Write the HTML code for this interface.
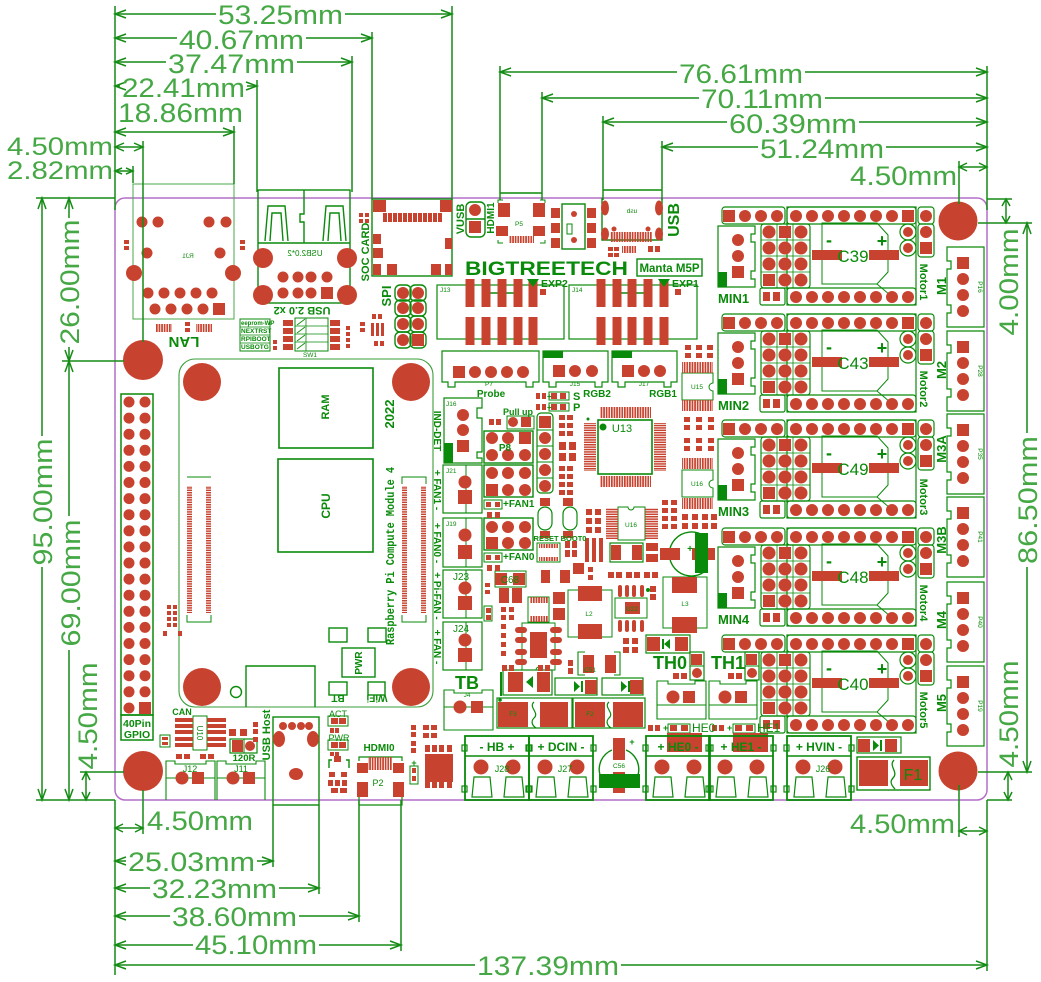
<!DOCTYPE html>
<html><head><meta charset="utf-8"><title>Manta M5P dimensions</title>
<style>
html,body{margin:0;padding:0;background:#fff;width:1041px;height:982px;overflow:hidden}
svg{display:block}
text{font-family:"Liberation Sans",sans-serif}
.dt{fill:#45a845;font-size:27px}
.ds{fill:#45a845;font-size:25px}
.b{font-weight:bold;fill:#0a8a0a}
.g{fill:#0a8a0a}
</style></head><body>
<svg width="1041" height="982" viewBox="0 0 1041 982" xmlns="http://www.w3.org/2000/svg">
<defs>
<pattern id="hs" width="10" height="2.4" patternUnits="userSpaceOnUse"><rect width="10" height="1.5" fill="#c8432f"/></pattern>
<pattern id="vs" width="2.6" height="10" patternUnits="userSpaceOnUse"><rect width="1.7" height="10" fill="#c8432f"/></pattern>
<g id="gp" fill="#c8432f"><circle cx="129" cy="0" r="5.5"/><circle cx="145" cy="0" r="5.5"/></g>
<g id="mot">
 <g fill="none" stroke="#0a8a0a" stroke-width="1.2">
  <rect x="787" y="-48" width="129" height="98"/>
  <rect x="787" y="-48" width="129" height="17" rx="3"/>
  <rect x="787" y="33" width="129" height="17" rx="3"/>
  <path d="M822,-32H877L888,-20V17L877,29H822Z" stroke-width="1"/>
  <path d="M877,29L890,40" stroke-width="1"/>
  <rect x="918" y="-48" width="16" height="17" rx="3"/>
  <rect x="918" y="-31" width="16" height="33" rx="3"/>
  <rect x="722" y="-48" width="63" height="17" rx="3"/>
  <rect x="761" y="-31" width="49" height="64" rx="3"/>
  <path d="M761,-15H810M761,1H810M761,17H810M777,-31V33M793,-31V33" stroke-width="0.8"/>
  <circle cx="908" cy="-23" r="8"/><circle cx="908" cy="-7" r="8"/>
  <rect x="760" y="33" width="25" height="17" rx="2"/>
 </g>
 <g fill="#c8432f">
  <circle cx="796" cy="-39" r="6"/><circle cx="812" cy="-39" r="6"/><circle cx="828" cy="-39" r="6"/><circle cx="844" cy="-39" r="6"/><circle cx="860" cy="-39" r="6"/><circle cx="876" cy="-39" r="6"/><circle cx="892" cy="-39" r="6"/><rect x="902" y="-45" width="12" height="12"/>
  <circle cx="796" cy="42" r="6"/><circle cx="812" cy="42" r="6"/><circle cx="828" cy="42" r="6"/><circle cx="844" cy="42" r="6"/><circle cx="860" cy="42" r="6"/><circle cx="876" cy="42" r="6"/><circle cx="892" cy="42" r="6"/><circle cx="908" cy="42" r="6"/>
  <circle cx="926" cy="-39" r="6"/><circle cx="926" cy="-23" r="6"/><rect x="920" y="-13" width="12" height="12"/>
  <circle cx="908" cy="-23" r="5"/><circle cx="908" cy="-7" r="5"/>
  <rect x="723" y="-45" width="12" height="12"/><circle cx="745" cy="-39" r="6"/><circle cx="761" cy="-39" r="6"/><circle cx="777" cy="-39" r="6"/>
  <circle cx="769" cy="-23" r="6.5"/><circle cx="769" cy="-7" r="6.5"/><circle cx="769" cy="9" r="6.5"/><rect x="763" y="19" width="12" height="12"/>
  <rect x="779" y="-29" width="12" height="12"/><circle cx="785" cy="-7" r="6.5"/><circle cx="785" cy="9" r="6.5"/><circle cx="785" cy="25" r="6.5"/>
  <circle cx="801" cy="-23" r="6.5"/><circle cx="801" cy="-7" r="6.5"/><circle cx="801" cy="9" r="6.5"/><circle cx="801" cy="25" r="6.5"/>
  <rect x="763" y="37" width="7" height="9"/><rect x="773" y="37" width="7" height="9"/>
  <rect x="812" y="-5" width="30" height="10"/><rect x="869" y="-5" width="30" height="10"/>
 </g>
</g>
<g id="mn">
 <path d="M718,-29H755V-21H751V-13H755V16H751V24H755V32H718Z" fill="none" stroke="#0a8a0a" stroke-width="1.2"/>
 <rect x="718" y="17" width="9" height="15" fill="#0a8a0a"/>
 <g fill="#c8432f"><circle cx="738" cy="-15" r="6"/><circle cx="738" cy="1" r="6"/><rect x="732" y="11" width="12" height="12"/></g>
</g>
<g id="mc">
 <path d="M947,0H984V80H947V66H951V58H947V22H951V14H947Z" fill="none" stroke="#0a8a0a" stroke-width="1.2"/>
 <g fill="#c8432f"><rect x="957" y="10" width="12" height="12"/><circle cx="963" cy="32" r="6"/><circle cx="963" cy="48" r="6"/><circle cx="963" cy="64" r="6"/></g>
</g>
<g id="tb">
 <rect x="0" y="0" width="64" height="64" fill="none" stroke="#0a8a0a" stroke-width="1.8"/>
 <path d="M0,20H64" stroke="#0a8a0a" stroke-width="1.5"/>
 <g fill="none" stroke="#0a8a0a" stroke-width="1.2"><rect x="-3" y="9" width="5" height="6"/><rect x="62" y="9" width="5" height="6"/><rect x="-3" y="50" width="5" height="6"/><rect x="62" y="50" width="5" height="6"/>
 <path d="M9,41H25L27,61H7Z"/><path d="M41,41H57L59,61H39Z"/></g>
 <circle cx="16" cy="31" r="7.5" fill="#c8432f"/><circle cx="48" cy="31" r="7.5" fill="#c8432f"/>
</g>
</defs>

<rect width="1041" height="982" fill="#fff"/>

<!-- board outline -->
<rect x="115" y="198" width="872" height="602" rx="10" fill="none" stroke="#b46ec8" stroke-width="1.5"/>

<!-- ===== outlines (green) ===== -->
<g fill="none" stroke="#0a8a0a" stroke-width="1.4">
 <rect x="133" y="184" width="101" height="135" stroke="#4aa84a" stroke-width="1"/>
 <rect x="258" y="190" width="92" height="113"/>
 <path d="M258,243H350M304,190V214H300V222H304V243"/>
 <path d="M265,241L268,206H285L288,241M270,241L272,213H281L283,241"/>
 <path d="M323,241L326,206H343L346,241M328,241L330,213H339L341,241"/>
 <rect x="372" y="199" width="80" height="77"/>
 <rect x="466" y="202" width="19" height="35" rx="5"/><path d="M466,219H485"/>
 <rect x="562" y="204" width="23" height="45"/><rect x="567" y="224" width="5" height="10" stroke-width="1"/>
 <path d="M602,198V240H662V198"/>
 <path d="M500,193H542M500,193V200M542,193V200M603,190H662M603,190V200M662,190V200"/>
 <path d="M498,203V200H503M545,203V200H540M498,240V243H503M545,240V243H540" stroke-width="1"/>
 <rect x="637" y="259" width="65" height="17"/>
 <rect x="437" y="285" width="127" height="54" stroke-width="1.2"/>
 <path d="M484,285V293H517V285"/>
 <rect x="569" y="285" width="128" height="54" stroke-width="1.2"/>
 <path d="M616,285V293H648V285"/>
 <rect x="395" y="285" width="16" height="16" rx="5"/><rect x="410" y="285" width="16" height="16" rx="5"/>
 <rect x="395" y="300" width="16" height="16" rx="5"/><rect x="410" y="300" width="16" height="16" rx="5"/>
 <rect x="395" y="316" width="16" height="16" rx="5"/><rect x="410" y="316" width="16" height="16" rx="5"/>
 <rect x="395" y="332" width="16" height="16" rx="5"/><rect x="410" y="332" width="16" height="16" rx="5"/>
 <rect x="240" y="319" width="30" height="32" stroke-width="1"/><path d="M240,327H270M240,335H270M240,343H270" stroke-width="0.8"/>
 <rect x="295" y="318" width="33" height="33" stroke-width="1"/><path d="M306,318V351M295,326H328M295,334H328M295,342H328" stroke-width="0.8"/>
 <path d="M297,325L305,319M297,333L305,327M297,341L305,335M297,349L305,343" stroke-width="0.8"/>
 <!-- CM4 -->
 <rect x="179" y="359" width="254" height="348" rx="16" stroke="#3a9e3a" stroke-width="1.1"/>
 <rect x="279" y="368" width="94" height="80" stroke-width="1.6"/>
 <rect x="278" y="459" width="95" height="93" stroke-width="1.6"/>
 <path d="M187,477H211M187,615V622H211V615M402,484V477H426V484M402,615V622H426V615" stroke-width="1"/>
 <rect x="342" y="648" width="33" height="29"/>
 <rect x="329" y="628" width="18" height="14"/><rect x="368" y="628" width="18" height="14"/>
 <rect x="329" y="682" width="18" height="13"/><rect x="368" y="682" width="17" height="13"/>
 <path d="M246,707V666H315V707"/>
 <circle cx="236" cy="692" r="5.5"/>
 <!-- GPIO -->
 <rect x="121" y="394" width="32" height="321" stroke-width="1.5"/>
 <rect x="121" y="715" width="32" height="25" stroke-width="1.5"/>
 <!-- Probe / RGB -->
 <path d="M442,351H539V382H533V387H526V382H455V387H448V382H442Z" stroke-width="1.2"/>
 <path d="M543,351H608V382H602V387H595V382H556V387H549V382H543Z" stroke-width="1.2"/>
 <path d="M612,351H677V382H671V387H664V382H625V387H618V382H612Z" stroke-width="1.2"/>
 <rect x="549" y="392" width="20" height="8" stroke-width="1"/><rect x="549" y="403" width="20" height="8" stroke-width="1"/>
 <!-- left side connectors -->
 <path d="M444,398H482V408H477V418H482V452H477V458H482V463H444Z" stroke-width="1.2"/>
 <rect x="443" y="465" width="39" height="48" stroke-width="1.2"/><path d="M466,465V513" stroke-width="1"/>
 <rect x="443" y="518" width="39" height="49" stroke-width="1.2"/><path d="M466,518V567" stroke-width="1"/>
 <rect x="443" y="570" width="39" height="48" stroke-width="1.2"/><path d="M466,570V618" stroke-width="1"/>
 <rect x="443" y="622" width="39" height="48" stroke-width="1.2"/><path d="M466,622V670" stroke-width="1"/>
 <rect x="484" y="431" width="49" height="32"/><rect x="484" y="465" width="49" height="32"/><rect x="484" y="518" width="49" height="32"/>
 <rect x="507" y="416" width="27" height="13" stroke-width="1"/>
 <rect x="484" y="500" width="18" height="9" stroke-width="1"/><rect x="484" y="553" width="18" height="9" stroke-width="1"/>
 <rect x="537" y="413" width="16" height="80" rx="4" stroke-width="1.2"/>
 <path d="M537,430H553M537,446H553M537,462H553M537,478H553" stroke-width="1"/>
 <rect x="598" y="420" width="54" height="54" stroke-width="1.6"/>
 <rect x="538" y="507" width="14" height="23" rx="7" stroke-width="1.2"/><rect x="563" y="507" width="14" height="23" rx="7" stroke-width="1.2"/>
 <rect x="537" y="543" width="23" height="19" stroke-width="1"/>
 <path d="M618,507H628A3,3 0 0 0 634,507H645V540H618Z" stroke-width="1"/>
 <rect x="610" y="543" width="33" height="19" stroke-width="1.2"/>
 <path d="M704,536A22,22 0 1 0 704,572" stroke-width="1.4"/>
 <path d="M682,373H713V383A4,4 0 0 0 713,391V400H682Z" stroke-width="1"/>
 <path d="M682,470H713V480A4,4 0 0 0 713,488V497H682Z" stroke-width="1"/>
 <rect x="495" y="571" width="31" height="16" stroke-width="1"/>
 <rect x="484" y="606" width="8" height="15" stroke-width="1"/>
 <rect x="528" y="597" width="21" height="25" stroke-width="1"/>
 <rect x="568" y="590" width="44" height="47" stroke-width="1"/>
 <rect x="615" y="598" width="32" height="20" stroke-width="1"/>
 <rect x="663" y="577" width="44" height="51" stroke-width="1"/>
 <path d="M522,623H555V670H542A3,3 0 0 0 536,670H522Z" stroke-width="1"/>
 <path d="M585,652H578V675H585M614,652H620V675H614" stroke-width="1.1"/>
 <rect x="646" y="635" width="44" height="18" stroke-width="1.2"/>
 <rect x="690" y="652" width="14" height="28" stroke-width="1.2"/><path d="M690,666H704" stroke-width="1"/>
 <rect x="745" y="652" width="14" height="28" stroke-width="1.2"/><path d="M745,666H759" stroke-width="1"/>
 <rect x="503" y="670" width="49" height="25" stroke-width="1.2"/>
 <rect x="555" y="678" width="42" height="17" stroke-width="1.2"/>
 <rect x="602" y="678" width="41" height="17" stroke-width="1.2"/>
 <rect x="497" y="698" width="75" height="30" stroke-width="1.2"/>
 <rect x="573" y="698" width="72" height="30" stroke-width="1.2"/>
 <path d="M534,702C528,707 540,713 534,718C530,722 533,726 536,728M609,702C603,707 615,713 609,718C605,722 608,726 611,728" stroke-width="1.2"/>
 <path d="M444,690H454V693H482V690H493V730H444ZM444,707H493" stroke-width="1.1"/>
 <path d="M657,681H668V684H695V681H706V719H657ZM657,705H706" stroke-width="1.1"/>
 <path d="M709,681H720V684H746V681H757V719H709ZM709,705H757" stroke-width="1.1"/>
 <rect x="668" y="724" width="22" height="9" stroke-width="1"/>
 <rect x="733" y="724" width="22" height="9" stroke-width="1"/>
 <path d="M600,775A21,21 0 0 1 612,750M626,750A21,21 0 0 1 638,775" stroke-width="1.4"/>
 <rect x="857" y="737" width="44" height="16" stroke-width="1.2"/>
 <rect x="857" y="757" width="73" height="33" stroke-width="1.4"/>
 <path d="M894,760C888,766 899,772 893,778C889,782 892,786 895,789" stroke-width="1.3"/>
 <!-- bottom left -->
 <rect x="193" y="716" width="14" height="34" stroke-width="1"/>
 <rect x="160" y="735" width="10" height="12" stroke-width="1"/>
 <rect x="230" y="739" width="27" height="14" stroke-width="1.2"/><path d="M244,739V753" stroke-width="1"/>
 <path d="M166,800V761H175V764H206V761H215V800M166,778H215" stroke-width="1.1"/>
 <path d="M217,800V761H226V764H256V761H265V800M217,778H265" stroke-width="1.1"/>
 <rect x="273" y="717" width="46" height="88" stroke-width="1.4"/>
 <rect x="328" y="716" width="20" height="10" stroke-width="1"/><rect x="328" y="740" width="20" height="10" stroke-width="1"/>
 <path d="M332,760H329V768M346,760H349V768" stroke-width="1.4"/>
 <path d="M359,761V757H402V761M359,796V805H402V796" stroke-width="1.2"/>
 <rect x="410" y="766" width="8" height="18" stroke-width="1"/>
</g>

<!-- ===== red pads ===== -->
<g fill="#c8432f">
 <circle cx="143" cy="360" r="20"/><circle cx="143" cy="771" r="20"/><circle cx="958" cy="221" r="19.5"/><circle cx="958" cy="771" r="19.5"/>
 <circle cx="202" cy="382" r="19"/><circle cx="411" cy="382" r="19"/><circle cx="202" cy="687" r="19"/><circle cx="411" cy="687" r="19"/>
 <circle cx="142" cy="222" r="5.5"/><circle cx="158" cy="222" r="5.5"/><circle cx="209" cy="222" r="5.5"/><circle cx="226" cy="222" r="5.5"/>
 <circle cx="147" cy="253" r="5.5"/><circle cx="220" cy="253" r="5.5"/><circle cx="134" cy="273" r="8"/><circle cx="233" cy="273" r="8"/>
 <circle cx="148" cy="293" r="5.5"/><circle cx="164" cy="293" r="5.5"/><circle cx="180" cy="293" r="5.5"/><circle cx="196" cy="293" r="5.5"/><circle cx="212" cy="293" r="5.5"/>
 <circle cx="155" cy="309" r="5.5"/><circle cx="171" cy="309" r="5.5"/><circle cx="187" cy="309" r="5.5"/><circle cx="203" cy="309" r="5.5"/><rect x="213" y="303" width="12" height="12"/>
 <circle cx="263" cy="258" r="10"/><circle cx="347" cy="258" r="10"/><circle cx="263" cy="295" r="10"/><circle cx="347" cy="295" r="10"/>
 <circle cx="283" cy="277" r="5.5"/><circle cx="298" cy="277" r="5.5"/><circle cx="311" cy="277" r="5.5"/><circle cx="327" cy="277" r="5.5"/>
 <circle cx="283" cy="293" r="5.5"/><circle cx="298" cy="293" r="5.5"/><circle cx="311" cy="293" r="5.5"/><rect x="321" y="287" width="12" height="12"/>
 <rect x="373" y="200" width="13" height="12"/><rect x="440" y="200" width="12" height="12"/>
 <rect x="383" y="213" width="4" height="9"/><rect x="388" y="213" width="4" height="9"/><rect x="393" y="213" width="4" height="9"/><rect x="398" y="213" width="4" height="9"/><rect x="403" y="213" width="4" height="9"/><rect x="408" y="213" width="4" height="9"/><rect x="413" y="213" width="4" height="9"/><rect x="418" y="213" width="4" height="9"/><rect x="423" y="213" width="4" height="9"/><rect x="428" y="213" width="4" height="9"/><rect x="433" y="213" width="4" height="9"/><rect x="438" y="213" width="4" height="9"/>
 <rect x="373" y="234" width="8" height="10"/><rect x="373" y="248" width="10" height="10"/><rect x="373" y="264" width="8" height="11"/><rect x="387" y="264" width="10" height="11"/>
 <rect x="445" y="238" width="7" height="11"/><rect x="431" y="264" width="10" height="11"/><rect x="445" y="264" width="7" height="11"/>
 <rect x="359" y="213" width="4" height="4"/><rect x="365" y="213" width="4" height="4"/><rect x="359" y="219" width="4" height="4"/><rect x="365" y="219" width="4" height="4"/>
 <circle cx="475" cy="210" r="6"/><rect x="469" y="221" width="12" height="12"/>
 <rect x="498" y="203" width="12" height="14"/><rect x="533" y="203" width="12" height="14"/>
 <rect x="496" y="226" width="12" height="10"/><rect x="533" y="226" width="12" height="10"/>
 <rect x="509" y="236" width="25" height="7" fill="url(#vs)"/>
 <rect x="551" y="208" width="9" height="10"/><rect x="551" y="223" width="9" height="10"/><rect x="551" y="238" width="9" height="10"/>
 <rect x="587" y="208" width="9" height="10"/><rect x="587" y="223" width="9" height="10"/><rect x="587" y="238" width="9" height="10"/>
 <circle cx="574" cy="214" r="3"/><circle cx="574" cy="240" r="3"/>
 <ellipse cx="605" cy="208" rx="4" ry="7.5"/><ellipse cx="659" cy="208" rx="4" ry="7.5"/>
 <ellipse cx="605" cy="234" rx="4" ry="6.5"/><ellipse cx="659" cy="234" rx="4" ry="6.5"/>
 <rect x="610" y="232" width="42" height="10" fill="url(#vs)"/>
 <circle cx="614" cy="229" r="2.5"/><circle cx="648" cy="229" r="2.5"/>
 <rect x="608" y="247" width="5" height="4"/><rect x="614" y="247" width="5" height="4"/><rect x="608" y="253" width="5" height="4"/><rect x="614" y="253" width="5" height="4"/>
 <rect x="622" y="246" width="14" height="7" fill="url(#vs)"/>
 <rect x="648" y="246" width="5" height="6"/><rect x="655" y="246" width="5" height="6"/>
 <rect x="465.5" y="279" width="9" height="28"/><rect x="481.5" y="279" width="9" height="28"/><rect x="497.5" y="279" width="9" height="28"/><rect x="513.5" y="279" width="9" height="28"/><rect x="528.5" y="279" width="9" height="28"/>
 <rect x="465.5" y="317" width="9" height="28"/><rect x="481.5" y="317" width="9" height="28"/><rect x="497.5" y="317" width="9" height="28"/><rect x="513.5" y="317" width="9" height="28"/><rect x="528.5" y="317" width="9" height="28"/>
 <rect x="596.5" y="279" width="9" height="28"/><rect x="612.5" y="279" width="9" height="28"/><rect x="627.5" y="279" width="9" height="28"/><rect x="643.5" y="279" width="9" height="28"/><rect x="659.5" y="279" width="9" height="28"/>
 <rect x="596.5" y="317" width="9" height="28"/><rect x="612.5" y="317" width="9" height="28"/><rect x="627.5" y="317" width="9" height="28"/><rect x="643.5" y="317" width="9" height="28"/><rect x="659.5" y="317" width="9" height="28"/>
 <rect x="540" y="289" width="6" height="6"/><rect x="675" y="289" width="6" height="6"/>
 <circle cx="403" cy="293" r="6"/><circle cx="418" cy="293" r="6"/><circle cx="403" cy="308" r="6"/><circle cx="418" cy="308" r="6"/>
 <circle cx="403" cy="324" r="6"/><circle cx="418" cy="324" r="6"/><circle cx="403" cy="340" r="6"/><rect x="412" y="334" width="12" height="12"/>
 <rect x="372" y="314" width="4" height="5"/><rect x="378" y="314" width="4" height="5"/><rect x="360" y="322" width="5" height="4"/><rect x="360" y="328" width="5" height="4"/>
 <rect x="371" y="323" width="3" height="13"/><rect x="376" y="323" width="3" height="13"/><rect x="381" y="323" width="3" height="13"/>
 <rect x="374" y="341" width="4" height="5"/><rect x="380" y="341" width="4" height="5"/>
 <rect x="283" y="320" width="10" height="6"/><rect x="283" y="328" width="10" height="6"/><rect x="283" y="336" width="10" height="6"/><rect x="283" y="344" width="10" height="6"/>
 <rect x="330" y="320" width="10" height="6"/><rect x="330" y="328" width="10" height="6"/><rect x="330" y="336" width="10" height="6"/><rect x="330" y="344" width="10" height="6"/>
 <rect x="273" y="340" width="4" height="4"/><rect x="273" y="346" width="4" height="4"/>
 <rect x="346" y="326" width="4" height="4"/><rect x="346" y="332" width="4" height="4"/><rect x="346" y="338" width="4" height="4"/><rect x="346" y="344" width="4" height="4"/>
 <rect x="156" y="324" width="16" height="8" fill="url(#vs)"/><rect x="196" y="324" width="16" height="8" fill="url(#vs)"/>
 <rect x="185" y="322" width="5" height="4"/><rect x="185" y="328" width="5" height="4"/>
 <rect x="124" y="240" width="5" height="4"/><rect x="124" y="246" width="5" height="4"/><rect x="240" y="240" width="5" height="4"/><rect x="240" y="246" width="5" height="4"/>
 <rect x="187" y="486" width="5" height="127" fill="url(#hs)"/><rect x="206" y="486" width="5" height="127" fill="url(#hs)"/>
 <rect x="402" y="486" width="5" height="127" fill="url(#hs)"/><rect x="421" y="486" width="5" height="127" fill="url(#hs)"/>
 <rect x="167" y="605" width="4" height="4"/><rect x="173" y="605" width="4" height="4"/><rect x="167" y="611" width="4" height="4"/><rect x="173" y="611" width="4" height="4"/><rect x="167" y="617" width="4" height="4"/><rect x="173" y="617" width="4" height="4"/><rect x="167" y="623" width="4" height="4"/><rect x="173" y="623" width="4" height="4"/>
 <rect x="163" y="631" width="4" height="5"/><rect x="178" y="631" width="4" height="5"/>
 <rect x="453" y="366" width="12" height="12"/><circle cx="475" cy="372" r="6"/><circle cx="491" cy="372" r="6"/><circle cx="507" cy="372" r="6"/><circle cx="523" cy="372" r="6"/>
 <rect x="553" y="365" width="12" height="12"/><circle cx="575" cy="371" r="6"/><circle cx="592" cy="371" r="6"/>
 <rect x="622" y="365" width="12" height="12"/><circle cx="644" cy="371" r="6"/><circle cx="660" cy="371" r="6"/>
 <rect x="536" y="393" width="4" height="6"/><rect x="542" y="393" width="4" height="6"/><rect x="551" y="393" width="6" height="6"/><rect x="560" y="393" width="6" height="6"/>
 <rect x="536" y="404" width="4" height="6"/><rect x="542" y="404" width="4" height="6"/><rect x="551" y="404" width="6" height="6"/><rect x="560" y="404" width="6" height="6"/>
 <circle cx="463" cy="415" r="6"/><circle cx="463" cy="430" r="6"/><rect x="457" y="440" width="12" height="12"/>
 <circle cx="465" cy="482" r="6.5"/><rect x="458" y="490" width="14" height="14"/>
 <circle cx="465" cy="535" r="6.5"/><rect x="458" y="545" width="14" height="14"/>
 <circle cx="465" cy="588" r="6.5"/><rect x="458" y="596" width="14" height="14"/>
 <circle cx="465" cy="640" r="6.5"/><rect x="458" y="648" width="14" height="14"/>
 <circle cx="513" cy="422" r="5"/><rect x="521" y="417" width="10" height="10"/>
 <rect x="489" y="419" width="5" height="6"/><rect x="496" y="419" width="5" height="6"/>
 <circle cx="492" cy="438" r="6"/><circle cx="508" cy="438" r="6"/><rect x="519" y="432" width="12" height="12"/>
 <circle cx="492" cy="455" r="6"/><circle cx="508" cy="455" r="6"/><circle cx="525" cy="455" r="6"/>
 <circle cx="492" cy="473" r="6"/><circle cx="508" cy="473" r="6"/><circle cx="525" cy="473" r="6"/>
 <rect x="486" y="484" width="12" height="12"/><circle cx="508" cy="490" r="6"/><circle cx="525" cy="490" r="6"/>
 <circle cx="492" cy="527" r="6"/><circle cx="508" cy="527" r="6"/><circle cx="525" cy="527" r="6"/>
 <rect x="486" y="537" width="12" height="12"/><circle cx="508" cy="543" r="6"/><circle cx="525" cy="543" r="6"/>
 <rect x="486" y="502" width="5" height="5"/><rect x="495" y="502" width="5" height="5"/><rect x="486" y="555" width="5" height="5"/><rect x="495" y="555" width="5" height="5"/>
 <rect x="487" y="512" width="5" height="6"/><rect x="495" y="512" width="5" height="6"/><rect x="487" y="565" width="5" height="6"/><rect x="495" y="565" width="5" height="6"/>
 <rect x="539" y="416" width="12" height="12"/><circle cx="545" cy="438" r="6"/><circle cx="545" cy="454" r="6"/><circle cx="545" cy="470" r="6"/><circle cx="545" cy="486" r="6"/>
 <rect x="559" y="415" width="6" height="5"/><rect x="567" y="415" width="6" height="5"/><rect x="559" y="423" width="6" height="5"/><rect x="567" y="423" width="6" height="5"/><rect x="559" y="431" width="6" height="5"/><rect x="567" y="431" width="6" height="5"/>
 <rect x="559" y="442" width="7" height="8"/><rect x="569" y="442" width="7" height="8"/><rect x="559" y="453" width="7" height="8"/><rect x="569" y="453" width="7" height="8"/>
 <rect x="559" y="466" width="6" height="5"/><rect x="567" y="466" width="6" height="5"/><rect x="559" y="474" width="6" height="5"/><rect x="567" y="474" width="6" height="5"/><rect x="559" y="482" width="6" height="5"/><rect x="567" y="482" width="6" height="5"/><rect x="559" y="490" width="6" height="5"/><rect x="567" y="490" width="6" height="5"/>
 <rect x="584" y="423" width="12" height="48" fill="url(#hs)"/><rect x="654" y="423" width="12" height="48" fill="url(#hs)"/>
 <rect x="600" y="407" width="51" height="11" fill="url(#vs)"/><rect x="600" y="476" width="51" height="11" fill="url(#vs)"/>
 <rect x="540" y="498" width="10" height="8"/><rect x="563" y="498" width="10" height="8"/><rect x="540" y="531" width="10" height="7"/><rect x="563" y="531" width="10" height="7"/>
 <rect x="586" y="509" width="6" height="6"/><rect x="595" y="509" width="6" height="6"/><rect x="586" y="518" width="6" height="6"/><rect x="595" y="518" width="6" height="6"/><rect x="586" y="527" width="6" height="6"/><rect x="595" y="527" width="6" height="6"/>
 <rect x="539" y="544" width="19" height="4" fill="url(#vs)"/><rect x="539" y="557" width="19" height="4" fill="url(#vs)"/>
 <rect x="565" y="541" width="5" height="7"/><rect x="572" y="541" width="5" height="7"/><rect x="565" y="550" width="5" height="7"/><rect x="572" y="550" width="5" height="7"/>
 <rect x="585" y="538" width="4" height="24"/><rect x="592" y="538" width="4" height="24"/><rect x="599" y="538" width="4" height="24"/>
 <rect x="606" y="508" width="12" height="31" fill="url(#hs)"/><rect x="645" y="508" width="13" height="31" fill="url(#hs)"/>
 <rect x="611" y="545" width="10" height="15"/><rect x="632" y="545" width="10" height="15"/>
 <rect x="646" y="543" width="12" height="8"/><rect x="646" y="554" width="12" height="8"/>
 <rect x="660" y="548" width="20" height="12"/><rect x="692" y="548" width="23" height="12"/>
 <rect x="685" y="345" width="6" height="5"/><rect x="685" y="353" width="6" height="5"/><rect x="696" y="345" width="6" height="5"/><rect x="696" y="353" width="6" height="5"/><rect x="707" y="345" width="6" height="5"/><rect x="707" y="353" width="6" height="5"/>
 <rect x="682" y="362" width="31" height="11" fill="url(#vs)"/><rect x="682" y="400" width="31" height="11" fill="url(#vs)"/>
 <rect x="684" y="417" width="6" height="5"/><rect x="684" y="425" width="6" height="5"/><rect x="696" y="417" width="6" height="5"/><rect x="696" y="425" width="6" height="5"/><rect x="708" y="417" width="6" height="5"/><rect x="708" y="425" width="6" height="5"/>
 <rect x="684" y="438" width="6" height="5"/><rect x="684" y="446" width="6" height="5"/><rect x="696" y="438" width="6" height="5"/><rect x="696" y="446" width="6" height="5"/><rect x="708" y="438" width="6" height="5"/><rect x="708" y="446" width="6" height="5"/>
 <rect x="682" y="458" width="31" height="11" fill="url(#vs)"/><rect x="682" y="498" width="31" height="11" fill="url(#vs)"/>
 <rect x="662" y="500" width="6" height="5"/><rect x="671" y="500" width="6" height="5"/><rect x="662" y="508" width="6" height="5"/><rect x="671" y="508" width="6" height="5"/><rect x="662" y="516" width="6" height="5"/><rect x="671" y="516" width="6" height="5"/><rect x="662" y="524" width="6" height="5"/><rect x="671" y="524" width="6" height="5"/>
 <rect x="682" y="514" width="6" height="6"/><rect x="682" y="523" width="6" height="6"/><rect x="692" y="514" width="6" height="6"/><rect x="692" y="523" width="6" height="6"/><rect x="702" y="514" width="6" height="6"/><rect x="702" y="523" width="6" height="6"/><rect x="711" y="514" width="6" height="6"/><rect x="711" y="523" width="6" height="6"/>
 <rect x="495" y="573" width="12" height="12"/><rect x="513" y="573" width="12" height="12"/>
 <rect x="499" y="588" width="10" height="15"/><rect x="512" y="588" width="10" height="15"/>
 <rect x="485" y="583" width="5" height="4"/><rect x="485" y="590" width="5" height="4"/><rect x="486" y="608" width="5" height="5"/><rect x="486" y="615" width="5" height="5"/>
 <rect x="501" y="607" width="5" height="5"/><rect x="509" y="607" width="5" height="5"/><rect x="501" y="615" width="5" height="5"/><rect x="509" y="615" width="5" height="5"/><rect x="501" y="624" width="5" height="5"/><rect x="501" y="633" width="5" height="5"/><rect x="501" y="642" width="5" height="5"/><rect x="501" y="651" width="5" height="5"/>
 <rect x="541" y="570" width="9" height="13"/><rect x="560" y="570" width="10" height="13"/>
 <rect x="573" y="563" width="11" height="11"/><rect x="588" y="567" width="5" height="5"/><rect x="588" y="575" width="5" height="5"/>
 <rect x="530" y="597" width="18" height="6" fill="url(#vs)"/><rect x="530" y="616" width="18" height="6" fill="url(#vs)"/>
 <rect x="553" y="592" width="12" height="12"/><rect x="553" y="608" width="12" height="12"/>
 <rect x="578" y="586" width="24" height="15"/><rect x="578" y="624" width="24" height="15"/>
 <rect x="618" y="585" width="4" height="12" rx="2"/><rect x="625" y="585" width="4" height="12" rx="2"/><rect x="632" y="585" width="4" height="12" rx="2"/><rect x="640" y="585" width="4" height="12" rx="2"/>
 <rect x="618" y="620" width="4" height="12" rx="2"/><rect x="625" y="620" width="4" height="12" rx="2"/><rect x="632" y="620" width="4" height="12" rx="2"/><rect x="640" y="620" width="4" height="12" rx="2"/>
 <rect x="625" y="602" width="15" height="12"/>
 <rect x="608" y="572" width="6" height="6"/><rect x="616" y="572" width="6" height="6"/><rect x="626" y="572" width="6" height="6"/><rect x="634" y="572" width="6" height="6"/><rect x="644" y="572" width="6" height="6"/><rect x="652" y="572" width="6" height="6"/>
 <rect x="650" y="586" width="6" height="6"/><rect x="650" y="594" width="6" height="6"/>
 <rect x="672" y="577" width="25" height="16"/><rect x="672" y="617" width="25" height="16"/>
 <rect x="515" y="627" width="12" height="6" rx="3"/><rect x="515" y="637" width="12" height="6" rx="3"/><rect x="515" y="649" width="12" height="6" rx="3"/><rect x="515" y="659" width="12" height="6" rx="3"/>
 <rect x="550" y="627" width="12" height="6" rx="3"/><rect x="550" y="637" width="12" height="6" rx="3"/><rect x="550" y="649" width="12" height="6" rx="3"/><rect x="550" y="659" width="12" height="6" rx="3"/>
 <rect x="530" y="632" width="17" height="26"/>
 <rect x="502" y="665" width="5" height="6"/><rect x="509" y="665" width="5" height="6"/><rect x="538" y="665" width="5" height="6"/><rect x="545" y="665" width="5" height="6"/>
 <rect x="568" y="660" width="5" height="6"/><rect x="568" y="668" width="5" height="6"/>
 <rect x="583" y="655" width="11" height="18"/><rect x="605" y="655" width="11" height="18"/>
 <rect x="623" y="638" width="6" height="6"/><rect x="632" y="638" width="6" height="6"/><rect x="623" y="647" width="6" height="6"/><rect x="632" y="647" width="6" height="6"/>
 <rect x="647" y="637" width="13" height="14"/><rect x="675" y="637" width="13" height="14"/>
 <rect x="691" y="654" width="11" height="11"/><circle cx="697" cy="673" r="5"/>
 <rect x="746" y="654" width="11" height="11"/><circle cx="752" cy="673" r="5"/>
 <rect x="673" y="673" width="6" height="6"/><rect x="681" y="673" width="6" height="6"/><rect x="728" y="673" width="6" height="6"/><rect x="736" y="673" width="6" height="6"/>
 <rect x="508" y="672" width="15" height="20"/><rect x="537" y="672" width="13" height="20"/>
 <rect x="585" y="680" width="12" height="14"/><rect x="630" y="680" width="13" height="14"/>
 <rect x="498" y="702" width="30" height="25"/><rect x="540" y="702" width="28" height="25"/>
 <rect x="575" y="702" width="30" height="25"/><rect x="613" y="702" width="30" height="25"/>
 <circle cx="460" cy="707" r="6.5"/><rect x="471" y="701" width="12" height="12"/>
 <circle cx="673" cy="697" r="6.5"/><rect x="683" y="691" width="12" height="12"/>
 <circle cx="725" cy="697" r="6.5"/><rect x="735" y="691" width="12" height="12"/>
 <rect x="648" y="725" width="5" height="6"/><rect x="655" y="725" width="5" height="6"/><rect x="670" y="725" width="7" height="6"/><rect x="681" y="725" width="7" height="6"/>
 <rect x="712" y="725" width="5" height="6"/><rect x="719" y="725" width="5" height="6"/><rect x="735" y="725" width="7" height="6"/><rect x="746" y="725" width="7" height="6"/>
 <rect x="667" y="733" width="35" height="19"/><rect x="733" y="733" width="35" height="19"/>
 <rect x="613" y="738" width="12" height="22"/><rect x="613" y="772" width="12" height="21"/>
 <rect x="858" y="739" width="12" height="13"/><rect x="885" y="739" width="12" height="13"/>
 <rect x="859" y="760" width="29" height="26"/><rect x="900" y="760" width="28" height="26"/>
 <rect x="175" y="718" width="18" height="4"/><rect x="175" y="724" width="18" height="4"/><rect x="175" y="730" width="18" height="4"/><rect x="175" y="737" width="18" height="4"/><rect x="175" y="743" width="18" height="4"/>
 <rect x="207" y="718" width="19" height="4"/><rect x="207" y="724" width="19" height="4"/><rect x="207" y="730" width="19" height="4"/><rect x="207" y="737" width="19" height="4"/><rect x="207" y="743" width="19" height="4"/>
 <rect x="162" y="737" width="6" height="3"/><rect x="162" y="742" width="6" height="3"/>
 <rect x="176" y="754" width="6" height="5"/><rect x="184" y="754" width="6" height="5"/><rect x="200" y="754" width="6" height="5"/><rect x="208" y="754" width="6" height="5"/>
 <rect x="229" y="729" width="7" height="7"/><rect x="240" y="729" width="7" height="7"/>
 <rect x="253" y="722" width="5" height="5"/><rect x="253" y="729" width="5" height="5"/><rect x="253" y="737" width="5" height="5"/>
 <rect x="232" y="740" width="11" height="12"/><circle cx="250" cy="746" r="5"/>
 <circle cx="182" cy="778" r="6.5"/><rect x="192" y="772" width="12" height="12"/>
 <circle cx="233" cy="778" r="6.5"/><rect x="243" y="772" width="12" height="12"/>
 <circle cx="283" cy="726" r="4"/><circle cx="292" cy="726" r="4"/><circle cx="301" cy="726" r="4"/><circle cx="309" cy="726" r="4"/>
 <ellipse cx="279" cy="739" rx="6" ry="8"/><ellipse cx="313" cy="739" rx="6" ry="8"/><ellipse cx="296" cy="774" rx="7" ry="6"/>
 <rect x="331" y="718" width="7" height="6"/><rect x="339" y="718" width="7" height="6"/><rect x="330" y="728" width="4" height="5"/><rect x="335" y="728" width="4" height="5"/>
 <rect x="331" y="742" width="7" height="6"/><rect x="339" y="742" width="7" height="6"/><rect x="330" y="752" width="4" height="4"/><rect x="335" y="752" width="4" height="4"/>
 <rect x="334" y="756" width="7" height="6"/>
 <rect x="329" y="772" width="6" height="5"/><rect x="341" y="772" width="6" height="5"/>
 <rect x="328" y="780" width="5" height="6"/><rect x="335" y="780" width="5" height="6"/><rect x="342" y="780" width="5" height="6"/>
 <rect x="331" y="788" width="7" height="5"/><rect x="340" y="788" width="7" height="5"/>
 <rect x="368" y="757" width="24" height="13" fill="url(#vs)"/>
 <rect x="357" y="763" width="11" height="10"/><rect x="393" y="763" width="11" height="10"/>
 <rect x="357" y="782" width="11" height="15"/><rect x="393" y="782" width="11" height="15"/>
 <rect x="411" y="725" width="5" height="5"/><rect x="411" y="732" width="5" height="5"/><rect x="411" y="741" width="5" height="5"/><rect x="411" y="748" width="5" height="5"/><rect x="412" y="768" width="4" height="5"/><rect x="412" y="776" width="4" height="5"/>
 <rect x="423" y="725" width="6" height="5"/><rect x="431" y="725" width="6" height="5"/><rect x="423" y="733" width="6" height="5"/><rect x="431" y="733" width="6" height="5"/>
 <rect x="425" y="745" width="5" height="7"/><rect x="432" y="745" width="5" height="7"/><rect x="439" y="745" width="5" height="7"/><rect x="447" y="745" width="5" height="7"/>
 <rect x="425" y="754" width="28" height="28"/>
 <rect x="425" y="782" width="5" height="6"/><rect x="432" y="782" width="5" height="6"/><rect x="439" y="782" width="5" height="6"/><rect x="447" y="782" width="5" height="6"/>
</g>

<!-- GPIO pads -->
<use href="#gp" y="402"/><use href="#gp" y="418.1"/><use href="#gp" y="434.2"/><use href="#gp" y="450.3"/><use href="#gp" y="466.4"/>
<use href="#gp" y="482.5"/><use href="#gp" y="498.6"/><use href="#gp" y="514.7"/><use href="#gp" y="530.8"/><use href="#gp" y="546.9"/>
<use href="#gp" y="563"/><use href="#gp" y="579.1"/><use href="#gp" y="595.2"/><use href="#gp" y="611.3"/><use href="#gp" y="627.4"/>
<use href="#gp" y="643.5"/><use href="#gp" y="659.6"/><use href="#gp" y="675.7"/><use href="#gp" y="691.8"/>
<circle cx="129" cy="708" r="5.5" fill="#c8432f"/><rect x="139" y="702" width="12" height="12" fill="#c8432f"/>

<!-- motors -->
<use href="#mot" y="255"/><use href="#mot" y="362"/><use href="#mot" y="468"/><use href="#mot" y="576"/><use href="#mot" y="683"/>
<use href="#mn" y="255"/><use href="#mn" y="362"/><use href="#mn" y="468"/><use href="#mn" y="576"/>
<use href="#mc" y="247"/><use href="#mc" y="331"/><use href="#mc" y="414"/><use href="#mc" y="497"/><use href="#mc" y="582"/><use href="#mc" y="666"/>

<!-- terminal blocks -->
<use href="#tb" x="465" y="736"/><use href="#tb" x="529" y="736"/><use href="#tb" x="646" y="736"/><use href="#tb" x="709" y="736"/><use href="#tb" x="787" y="736"/>

<!-- dark green fills / markers -->
<g fill="#0a8a0a">
 <rect x="543" y="351" width="20" height="7"/><rect x="612" y="351" width="20" height="7"/>
 <rect x="444" y="443" width="9" height="20"/>
 <rect x="695" y="533" width="13" height="40"/>
 <rect x="599" y="774" width="41" height="14"/>
 <polygon points="527,279 539,279 533,287"/><polygon points="658,279 670,279 664,287"/>
 <circle cx="603" cy="427" r="3.5"/><circle cx="588" cy="419" r="1.5"/>
 <polygon points="533,676 533,688 526,682"/>
 <polygon points="574,681 574,692 580,686.5"/><rect x="581" y="681" width="2" height="11"/>
 <polygon points="621,681 621,692 627,686.5"/><rect x="628" y="681" width="2" height="11"/>
 <polygon points="670,639 670,649 664,644"/><rect x="662" y="639" width="2" height="10"/>
 <polygon points="873,740 873,751 879,745.5"/><rect x="880" y="740" width="2" height="11"/>
 <circle cx="648" cy="590" r="2"/><circle cx="500" cy="700" r="1.8"/>
 <rect x="500" y="672" width="2" height="24"/>
</g>

<!-- ===== labels ===== -->
<g class="b">
 <text transform="translate(184,342) rotate(180)" text-anchor="middle" y="5" font-size="15">LAN</text>
 <text transform="translate(302,311) rotate(180)" text-anchor="middle" y="4" font-size="11">USB 2.0 x2</text>
 <text transform="translate(365,252) rotate(-90)" text-anchor="middle" y="4" font-size="11">SOC CARD</text>
 <text transform="translate(460,219) rotate(-90)" text-anchor="middle" y="4" font-size="11">VUSB</text>
 <text transform="translate(490,218) rotate(-90)" text-anchor="middle" y="4" font-size="10">HDMI1</text>
 <text transform="translate(673,220) rotate(-90)" text-anchor="middle" y="6" font-size="16">USB</text>
 <text transform="translate(386,296) rotate(-90)" text-anchor="middle" y="5" font-size="13">SPI</text>
 <text x="465" y="275" font-size="19" textLength="163" lengthAdjust="spacingAndGlyphs">BIGTREETECH</text>
 <text x="669.5" y="272" text-anchor="middle" font-size="11.5">Manta M5P</text>
 <text x="541" y="287" font-size="10.5">EXP2</text>
 <text x="672" y="287" font-size="10.5">EXP1</text>
 <text x="241" y="325" font-size="6">eeprom-WP</text>
 <text x="241" y="333" font-size="6.5">NEXTRST</text>
 <text x="241" y="341" font-size="6.5">RPIBOOT</text>
 <text x="241" y="349" font-size="6.5">USBOTG</text>
 <text transform="translate(325,407) rotate(-90)" text-anchor="middle" y="4" font-size="11">RAM</text>
 <text transform="translate(325,506) rotate(-90)" text-anchor="middle" y="5" font-size="12">CPU</text>
 <text transform="translate(389,414) rotate(-90)" text-anchor="middle" y="5" font-size="13">2022</text>
 <text transform="translate(390,556) rotate(-90)" text-anchor="middle" y="4" font-size="12" style="font-family:'Liberation Mono',monospace" textLength="178" lengthAdjust="spacingAndGlyphs">Raspberry Pi Compute Module 4</text>
 <text transform="translate(358,663) rotate(-90)" text-anchor="middle" y="4" font-size="10">PWR</text>
 <text transform="translate(338,699) rotate(180)" text-anchor="middle" y="4" font-size="10">BT</text>
 <text transform="translate(377,699) rotate(180)" text-anchor="middle" y="4" font-size="10">WiFi</text>
 <text x="137" y="727" text-anchor="middle" font-size="10.5">40Pin</text>
 <text x="137" y="738" text-anchor="middle" font-size="10.5">GPIO</text>
 <text x="491" y="397" text-anchor="middle" font-size="10">Probe</text>
 <text x="597" y="397" text-anchor="middle" font-size="10">RGB2</text>
 <text x="663" y="397" text-anchor="middle" font-size="10">RGB1</text>
 <text x="547" y="399" font-size="8">+</text><text x="547" y="410" font-size="8">+</text>
 <text x="573" y="400" font-size="11">S</text><text x="573" y="411" font-size="11">P</text>
 <text transform="translate(438,431) rotate(90)" text-anchor="middle" y="4" font-size="10">IND-DET</text>
 <text transform="translate(438,490) rotate(90)" text-anchor="middle" y="4" font-size="10">+ FAN1 -</text>
 <text transform="translate(438,543) rotate(90)" text-anchor="middle" y="4" font-size="10">+ FAN0 -</text>
 <text transform="translate(438,596) rotate(90)" text-anchor="middle" y="4" font-size="10">+ Pi-FAN -</text>
 <text transform="translate(438,647) rotate(90)" text-anchor="middle" y="4" font-size="10">+ FAN -</text>
 <text x="518" y="415" text-anchor="middle" font-size="9">Pull up</text>
 <text x="505" y="451" text-anchor="middle" font-size="10">P8</text>
 <text x="503" y="507" font-size="10">+FAN1</text>
 <text x="503" y="560" font-size="10">+FAN0</text>
 <text x="560" y="541" text-anchor="middle" font-size="7.5">RESET BOOT0</text>
 <text x="453" y="580" font-size="10" style="font-weight:normal">J23</text>
 <text x="453" y="632" font-size="10" style="font-weight:normal">J24</text>
 <text x="622" y="432" text-anchor="middle" font-size="11" style="font-weight:normal">U13</text>
 <text x="510" y="583" text-anchor="middle" font-size="10" style="font-weight:normal">C68</text>
 <text transform="translate(700,560) rotate(-90)" text-anchor="middle" y="4" font-size="10" style="font-weight:normal">C62</text>
 <text x="690" y="552" text-anchor="middle" font-size="10">+</text>
 <text x="653" y="669" font-size="18">TH0</text>
 <text x="711" y="669" font-size="18">TH1</text>
 <text x="467" y="689" text-anchor="middle" font-size="18">TB</text>
 <text x="663" y="731" font-size="9">+</text><text x="692" y="732" font-size="12" style="font-weight:normal">HE0</text>
 <text x="727" y="731" font-size="9">+</text><text x="757" y="732" font-size="12" style="font-weight:normal">HE1</text>
 <text x="497" y="751" text-anchor="middle" font-size="12">- HB +</text>
 <text x="561" y="751" text-anchor="middle" font-size="12">+ DCIN -</text>
 <text x="678" y="751" text-anchor="middle" font-size="12">+ HE0 -</text>
 <text x="741" y="751" text-anchor="middle" font-size="12">+ HE1 -</text>
 <text x="819" y="751" text-anchor="middle" font-size="12">+ HVIN -</text>
 <text x="632" y="745" text-anchor="middle" font-size="9">+</text>
 <text x="913" y="780" text-anchor="middle" font-size="16" style="font-weight:normal">F1</text>
 <text x="182" y="715" text-anchor="middle" font-size="9">CAN</text>
 <text x="244" y="761" text-anchor="middle" font-size="9.5">120R</text>
 <text transform="translate(266,735) rotate(-90)" text-anchor="middle" y="4" font-size="11">USB Host</text>
 <text x="338" y="717" text-anchor="middle" font-size="9" style="font-weight:normal">ACT</text>
 <text x="339" y="741" text-anchor="middle" font-size="9" style="font-weight:normal">PWR</text>
 <text x="379" y="751" text-anchor="middle" font-size="10">HDMI0</text>
 <text x="378" y="786" text-anchor="middle" font-size="9" style="font-weight:normal">P2</text>
 <text x="414" y="766" text-anchor="middle" font-size="9">+</text>
 <text x="190" y="772" text-anchor="middle" font-size="9" style="font-weight:normal">J12</text>
 <text x="241" y="772" text-anchor="middle" font-size="9" style="font-weight:normal">J11</text>
 <text x="502" y="772" text-anchor="middle" font-size="9" style="font-weight:normal">J28</text>
 <text x="565" y="772" text-anchor="middle" font-size="9" style="font-weight:normal">J27</text>
 <text x="823" y="772" text-anchor="middle" font-size="9" style="font-weight:normal">J26</text>
 <text transform="translate(200,733) rotate(90)" text-anchor="middle" y="3" font-size="8" style="font-weight:normal">U10</text>
 <text x="829" y="246" text-anchor="middle" font-size="18">-</text><text x="882" y="247" text-anchor="middle" font-size="18">+</text><text x="853" y="262" text-anchor="middle" font-size="17" style="font-weight:normal">C39</text>
 <text x="829" y="353" text-anchor="middle" font-size="18">-</text><text x="882" y="354" text-anchor="middle" font-size="18">+</text><text x="853" y="369" text-anchor="middle" font-size="17" style="font-weight:normal">C43</text>
 <text x="829" y="459" text-anchor="middle" font-size="18">-</text><text x="882" y="460" text-anchor="middle" font-size="18">+</text><text x="853" y="475" text-anchor="middle" font-size="17" style="font-weight:normal">C49</text>
 <text x="829" y="567" text-anchor="middle" font-size="18">-</text><text x="882" y="568" text-anchor="middle" font-size="18">+</text><text x="853" y="583" text-anchor="middle" font-size="17" style="font-weight:normal">C48</text>
 <text x="829" y="674" text-anchor="middle" font-size="18">-</text><text x="882" y="675" text-anchor="middle" font-size="18">+</text><text x="853" y="690" text-anchor="middle" font-size="17" style="font-weight:normal">C40</text>
 <text transform="translate(924,282) rotate(90)" text-anchor="middle" y="4" font-size="11">Motor1</text>
 <text transform="translate(924,389) rotate(90)" text-anchor="middle" y="4" font-size="11">Motor2</text>
 <text transform="translate(924,497) rotate(90)" text-anchor="middle" y="4" font-size="11">Motor3</text>
 <text transform="translate(924,603) rotate(90)" text-anchor="middle" y="4" font-size="11">Motor4</text>
 <text transform="translate(924,710) rotate(90)" text-anchor="middle" y="4" font-size="11">Motor5</text>
 <text x="718" y="303" font-size="13">MIN1</text>
 <text x="718" y="410" font-size="13">MIN2</text>
 <text x="718" y="516" font-size="13">MIN3</text>
 <text x="718" y="624" font-size="13">MIN4</text>
 <text transform="translate(941,286) rotate(-90)" text-anchor="middle" y="5" font-size="13">M1</text>
 <text transform="translate(941,370) rotate(-90)" text-anchor="middle" y="5" font-size="13">M2</text>
 <text transform="translate(941,449) rotate(-90)" text-anchor="middle" y="5" font-size="13">M3A</text>
 <text transform="translate(941,540) rotate(-90)" text-anchor="middle" y="5" font-size="13">M3B</text>
 <text transform="translate(941,620) rotate(-90)" text-anchor="middle" y="5" font-size="13">M4</text>
 <text transform="translate(941,703) rotate(-90)" text-anchor="middle" y="5" font-size="13">M5</text>
</g>
<g class="g" font-size="6.5">
 <text transform="translate(188,258) scale(-1,1)" text-anchor="middle">RJ1</text>
 <text transform="translate(305,256) scale(-1,1)" text-anchor="middle" font-size="8">USB2.0*2</text>
 <text transform="translate(632,213) scale(-1,1)" text-anchor="middle">usb</text>
 <text x="440" y="292">J13</text><text x="572" y="292">J14</text>
 <text x="519" y="226" text-anchor="middle">P5</text>
 <text x="310" y="357" text-anchor="middle">SW1</text>
 <text x="489" y="386" text-anchor="middle">P7</text><text x="575" y="386" text-anchor="middle">J15</text><text x="644" y="386" text-anchor="middle">J17</text>
 <text x="446" y="406">J16</text><text x="446" y="473">J21</text><text x="446" y="526">J19</text>
 <text x="697" y="389" text-anchor="middle">U15</text><text x="697" y="486" text-anchor="middle">U16</text><text x="631" y="527" text-anchor="middle">U16</text>
 <text x="590" y="672" text-anchor="middle">C51</text><text x="589" y="616" text-anchor="middle">L2</text><text x="685" y="606" text-anchor="middle">L3</text>
 <text x="632" y="611" text-anchor="middle">U22</text><text x="467" y="697" text-anchor="middle">J4</text>
 <text x="513" y="716" text-anchor="middle">F3</text><text x="590" y="716" text-anchor="middle">F2</text>
 <text x="619" y="768" text-anchor="middle">C56</text>
 <text transform="translate(978,287) rotate(90)" text-anchor="middle">P16</text>
 <text transform="translate(978,371) rotate(90)" text-anchor="middle">P28</text>
 <text transform="translate(978,454) rotate(90)" text-anchor="middle">P35</text>
 <text transform="translate(978,537) rotate(90)" text-anchor="middle">P41</text>
 <text transform="translate(978,622) rotate(90)" text-anchor="middle">P40</text>
 <text transform="translate(978,706) rotate(90)" text-anchor="middle">P19</text>
</g>

<!-- ===== dimensions ===== -->
<g fill="none" stroke="#158c15" stroke-width="1.5">
 <path d="M115,6V210M452,6V200M372,32V199M352,56V192M257,80V192M234,126V184M143,141V342M133,166V183"/>
 <path d="M115,14H216M345,14H452M115,38H177M306,38H372M115,62H166M297,62H352M115,86H120M247,86H257M115,132H234M115,147H143M115,171H133"/>
 <polyline points="126,10 115,14 126,18"/><polyline points="441,10 452,14 441,18"/>
 <polyline points="126,34 115,38 126,42"/><polyline points="361,34 372,38 361,42"/>
 <polyline points="126,58 115,62 126,66"/><polyline points="341,58 352,62 341,66"/>
 <polyline points="126,82 115,86 126,90"/><polyline points="246,82 257,86 246,90"/>
 <polyline points="126,128 115,132 126,136"/><polyline points="223,128 234,132 223,136"/>
 <polyline points="124,143 115,147 124,151"/><polyline points="134,143 143,147 134,151"/>
 <polyline points="122,168 115,171 122,174"/><polyline points="126,168 133,171 126,174"/>
 <path d="M36,198H115M36,800H115M42,198V436M42,567V800M69,198V218M69,347V516M69,650V800M62,361H124M86,772V800M80,772H124"/>
 <polyline points="38,209 42,198 46,209"/><polyline points="38,789 42,800 46,789"/>
 <polyline points="65,209 69,198 73,209"/><polyline points="65,350 69,361 73,350"/>
 <polyline points="65,372 69,361 73,372"/><polyline points="65,789 69,800 73,789"/>
 <polyline points="82,780 86,772 90,780"/><polyline points="82,792 86,800 90,792"/>
 <path d="M115,800V975M143,790V834M273,805V867M319,805V894M359,800V922M401,800V951M987,800V971M959,785V837"/>
 <path d="M115,828H143M115,861H126M257,861H273M115,888H150M279,888H319M115,916H170M299,916H359M115,945H193M319,945H401M115,965H475M621,965H987M959,831H987"/>
 <polyline points="123,824 115,828 123,832"/><polyline points="135,824 143,828 135,832"/>
 <polyline points="126,857 115,861 126,865"/><polyline points="262,857 273,861 262,865"/>
 <polyline points="126,884 115,888 126,892"/><polyline points="308,884 319,888 308,892"/>
 <polyline points="126,912 115,916 126,920"/><polyline points="348,912 359,916 348,920"/>
 <polyline points="126,941 115,945 126,949"/><polyline points="390,941 401,945 390,949"/>
 <polyline points="126,961 115,965 126,969"/><polyline points="976,961 987,965 976,969"/>
 <polyline points="967,827 959,831 967,835"/><polyline points="979,827 987,831 979,835"/>
 <path d="M500,66V193M542,92V193M603,116V190M662,141V190M959,161V204M987,66V210"/>
 <path d="M500,72H677M805,72H987M542,98H699M825,98H987M603,122H727M859,122H987M662,147H758M886,147H987M959,167H987"/>
 <polyline points="511,68 500,72 511,76"/><polyline points="976,68 987,72 976,76"/>
 <polyline points="553,94 542,98 553,102"/><polyline points="976,94 987,98 976,102"/>
 <polyline points="614,118 603,122 614,126"/><polyline points="976,118 987,122 976,126"/>
 <polyline points="673,143 662,147 673,151"/><polyline points="976,143 987,147 976,151"/>
 <polyline points="967,163 959,167 967,171"/><polyline points="979,163 987,167 979,171"/>
 <path d="M987,199H1012M978,223H1032M1006,199V223M1027,223V433M1027,567V772M978,772H1032M987,800H1012M1008,772V800"/>
 <polyline points="1002,206 1006,199 1010,206"/><polyline points="1002,216 1006,223 1010,216"/>
 <polyline points="1023,234 1027,223 1031,234"/><polyline points="1023,761 1027,772 1031,761"/>
 <polyline points="1004,780 1008,772 1012,780"/><polyline points="1004,792 1008,800 1012,792"/>
</g>
<g>
 <text class="dt" x="218" y="24" textLength="125" lengthAdjust="spacingAndGlyphs">53.25mm</text>
 <text class="dt" x="179" y="49" textLength="125" lengthAdjust="spacingAndGlyphs">40.67mm</text>
 <text class="dt" x="168" y="73" textLength="127" lengthAdjust="spacingAndGlyphs">37.47mm</text>
 <text class="dt" x="122" y="97" textLength="123" lengthAdjust="spacingAndGlyphs">22.41mm</text>
 <text class="dt" x="118" y="122" textLength="125" lengthAdjust="spacingAndGlyphs">18.86mm</text>
 <text class="ds" x="7" y="155" textLength="106" lengthAdjust="spacingAndGlyphs">4.50mm</text>
 <text class="ds" x="7" y="179" textLength="106" lengthAdjust="spacingAndGlyphs">2.82mm</text>
 <text class="dt" x="147" y="830" textLength="106" lengthAdjust="spacingAndGlyphs">4.50mm</text>
 <text class="dt" x="128" y="871" textLength="127" lengthAdjust="spacingAndGlyphs">25.03mm</text>
 <text class="dt" x="152" y="898" textLength="125" lengthAdjust="spacingAndGlyphs">32.23mm</text>
 <text class="dt" x="172" y="926" textLength="125" lengthAdjust="spacingAndGlyphs">38.60mm</text>
 <text class="dt" x="195" y="954" textLength="122" lengthAdjust="spacingAndGlyphs">45.10mm</text>
 <text class="dt" x="477" y="975" textLength="142" lengthAdjust="spacingAndGlyphs">137.39mm</text>
 <text class="dt" x="850" y="833" textLength="105" lengthAdjust="spacingAndGlyphs">4.50mm</text>
 <text class="dt" x="679" y="83" textLength="124" lengthAdjust="spacingAndGlyphs">76.61mm</text>
 <text class="dt" x="701" y="108" textLength="122" lengthAdjust="spacingAndGlyphs">70.11mm</text>
 <text class="dt" x="729" y="133" textLength="128" lengthAdjust="spacingAndGlyphs">60.39mm</text>
 <text class="dt" x="760" y="158" textLength="124" lengthAdjust="spacingAndGlyphs">51.24mm</text>
 <text class="dt" x="850" y="185" textLength="107" lengthAdjust="spacingAndGlyphs">4.50mm</text>
 <text class="dt" transform="translate(42,502) rotate(-90)" x="0" y="10" text-anchor="middle" textLength="127" lengthAdjust="spacingAndGlyphs">95.00mm</text>
 <text class="dt" transform="translate(69,282) rotate(-90)" x="0" y="10" text-anchor="middle" textLength="125" lengthAdjust="spacingAndGlyphs">26.00mm</text>
 <text class="dt" transform="translate(70,583) rotate(-90)" x="0" y="10" text-anchor="middle" textLength="127" lengthAdjust="spacingAndGlyphs">69.00mm</text>
 <text class="dt" transform="translate(87,716) rotate(-90)" x="0" y="10" text-anchor="middle" textLength="107" lengthAdjust="spacingAndGlyphs">4.50mm</text>
 <text class="dt" transform="translate(1008,282) rotate(-90)" x="0" y="10" text-anchor="middle" textLength="107" lengthAdjust="spacingAndGlyphs">4.00mm</text>
 <text class="dt" transform="translate(1027,500) rotate(-90)" x="0" y="10" text-anchor="middle" textLength="128" lengthAdjust="spacingAndGlyphs">86.50mm</text>
 <text class="dt" transform="translate(1008,714) rotate(-90)" x="0" y="10" text-anchor="middle" textLength="107" lengthAdjust="spacingAndGlyphs">4.50mm</text>
</g>
</svg>
</body></html>
